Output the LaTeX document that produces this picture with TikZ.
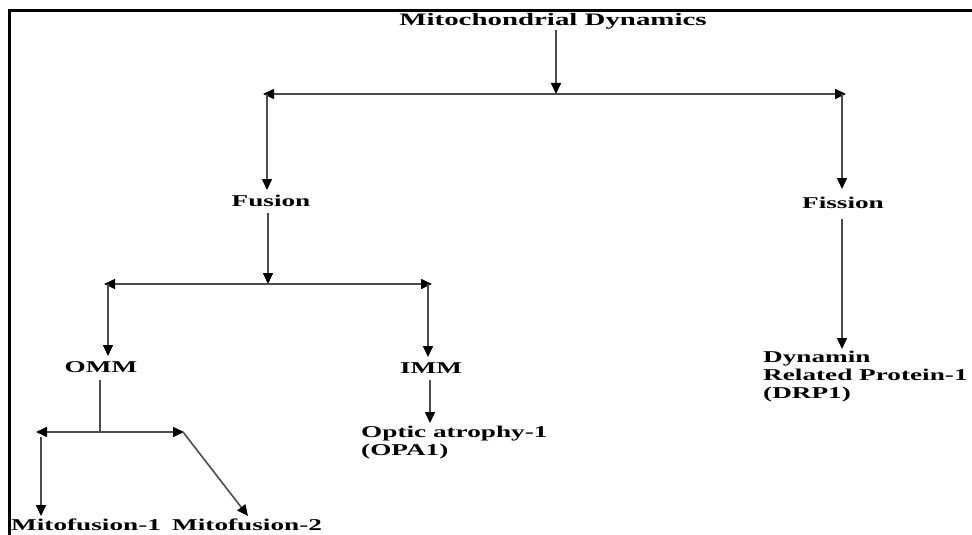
\documentclass[tikz,border=0pt]{standalone}
\usepackage{fontspec}
\setmainfont{Liberation Serif}[FakeStretch=1.65]
\usetikzlibrary{arrows.meta}
\tikzset{
  x=1pt, y=-1pt,
  lbl/.style={inner sep=0pt, font=\fontsize{16.5}{17.8}\selectfont\bfseries, text=black},
  blk/.style={lbl, align=left},
  conn/.style={draw=black!70, line width=1.6pt},
  arr/.style={conn, -{Triangle[length=11pt,width=10pt,color=black]}},
  darr/.style={conn, {Triangle[length=11pt,width=10pt,color=black]}-{Triangle[length=11pt,width=10pt,color=black]}}
}
\begin{document}
\begin{tikzpicture}
\useasboundingbox (0,0) rectangle (972,535);
% frame (only top and left edges visible)
\draw[line width=3pt, line cap=rect] (9.5,535) -- (9.5,10.5) -- (972,10.5);

% labels
\node[lbl, anchor=base, font=\fontsize{17.5}{20}\selectfont\bfseries] (title) at (553,26) {Mitochondrial Dynamics};
\node[lbl, anchor=base] (fusion) at (271,206) {Fusion};
\node[lbl, anchor=base] (fission) at (843,208) {Fission};
\node[lbl, anchor=base] (omm) at (101,372) {OMM};
\node[lbl, anchor=base] (imm) at (431,373) {IMM};
\node[lbl, anchor=base west] (mf1) at (11,530) {Mitofusion-1};
\node[lbl, anchor=base west] (mf2) at (172,530) {Mitofusion-2};
\node[blk, anchor=north west] (opa) at (361,426) {Optic atrophy-1\\(OPA1)};
\node[blk, anchor=north west] (drp) at (763,351) {Dynamin\\Related Protein-1\\(DRP1)};

% junctions
\coordinate (j1) at (556,94);
\coordinate (j1L) at (263,94);
\coordinate (j1R) at (846,94);
\coordinate (j2) at (268,284);
\coordinate (j2L) at (104,284);
\coordinate (j2R) at (432,284);
\coordinate (j3) at (100,432);
\coordinate (j3L) at (36,432);
\coordinate (j3R) at (184,432);
\coordinate (f2) at (248,516);

% top level
\draw[arr] (title.south -| j1) -- (j1);
\draw[darr] (j1L) -- (j1R);
\draw[arr] (267,94) -- (267,190);
\draw[arr] (842,94) -- (842,189);

% fusion branch
\draw[arr] (268,213) -- (j2);
\draw[darr] (j2L) -- (j2R);
\draw[arr] (108,284) -- (108,356);
\draw[arr] (428,284) -- (428,357);

% OMM branch
\draw[conn] (100,380) -- (j3);
\draw[darr] (j3L) -- (j3R);
\draw[arr] (41,437) -- (41,516);
\draw[arr] (183,432) -- (f2);

% IMM branch
\draw[arr] (430,380) -- (430,423);

% fission branch
\draw[arr] (842,219) -- (842,349);
\end{tikzpicture}
\end{document}
